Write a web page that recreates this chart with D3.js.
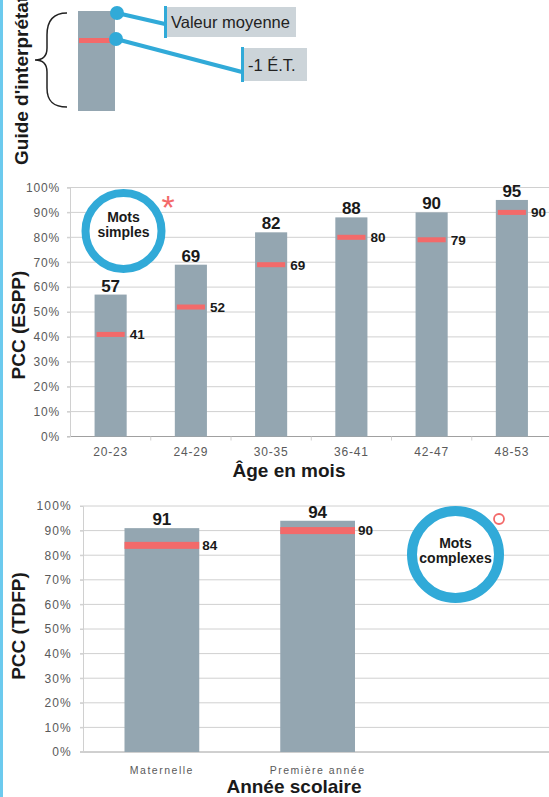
<!DOCTYPE html>
<html>
<head>
<meta charset="utf-8">
<script src="https://cdn.jsdelivr.net/npm/d3@7"></script>
<style>
  html, body { margin: 0; padding: 0; background: #fff; }
  svg { display: block; font-family: "Liberation Sans", Arial, sans-serif; }
</style>
</head>
<body>
<svg id="chart" width="549" height="797"></svg>
<script>
// Age groups (months) — simple words, ESPP
const ageGroups = ["20-23", "24-29", "30-35", "36-41", "42-47", "48-53"];
const ageMeans = [57, 69, 82, 88, 90, 95];
const ageMinusSD = [41, 52, 69, 80, 79, 90];

// School years — complex words, TDFP
const schoolYears = ["Maternelle", "Première année"];
const schoolMeans = [91, 94];
const schoolMinusSD = [84, 90];

// Shared percent ticks
const pctTicks = [0, 10, 20, 30, 40, 50, 60, 70, 80, 90, 100];

const BAR = "#94a6b1";
const RED = "#f36a6a";
const BLUE = "#31aad8";
const GRID = "#d0d0d0";
const AXIS = "#a0a0a0";
const TICKTXT = "#5a5a5a";

const svg = d3.select("#chart");

// light blue rule along the left edge
svg.append("rect").attr("x", 0).attr("y", 0).attr("width", 3).attr("height", 797).attr("fill", "#6ccaee");

// ---------- Reading guide ----------
const guide = svg.append("g");
guide.append("text")
  .attr("transform", "translate(28,165) rotate(-90)")
  .attr("font-size", 19).attr("font-weight", "bold").attr("fill", "#1a1a1a")
  .text("Guide d'interprétation");

guide.append("path")
  .attr("d", "M67,13 C52,13 47,22 47,35 L47,48 C47,56 43,60 35,60 C43,60 47,64 47,72 L47,88 C47,100 52,107 67,107")
  .attr("fill", "none").attr("stroke", "#222").attr("stroke-width", 1.5);

guide.append("rect").attr("x", 78).attr("y", 11).attr("width", 37).attr("height", 100).attr("fill", BAR);
guide.append("rect").attr("x", 79).attr("y", 38).attr("width", 33).attr("height", 5).attr("fill", RED);

const guideCallouts = [
  { label: "Valeur moyenne", dot: [117, 13], end: [165, 24], box: [167, 7, 129, 30], base: 28 },
  { label: "-1 É.T.", dot: [116, 39], end: [242, 72], box: [244, 48, 63, 33], base: 71 }
];
guideCallouts.forEach(c => {
  guide.append("rect").attr("x", c.box[0]).attr("y", c.box[1]).attr("width", c.box[2]).attr("height", c.box[3]).attr("fill", "#ccd4d9");
  guide.append("line").attr("x1", c.dot[0]).attr("y1", c.dot[1]).attr("x2", c.end[0]).attr("y2", c.end[1])
    .attr("stroke", BLUE).attr("stroke-width", 4);
  guide.append("rect").attr("x", c.box[0] - 3).attr("y", c.box[1] - 1).attr("width", 3).attr("height", c.box[3] + 2).attr("fill", BLUE);
  guide.append("circle").attr("cx", c.dot[0]).attr("cy", c.dot[1]).attr("r", 7).attr("fill", BLUE);
  guide.append("text").attr("x", c.box[0] + 4).attr("y", c.base)
    .attr("font-size", 16.5).attr("fill", "#222").text(c.label);
});

// ---------- generic bar panel ----------
function panel(opts) {
  const g = svg.append("g");
  const y = d3.scaleLinear().domain([0, 100]).range([opts.y0, opts.y1]);
  const x = d3.scaleBand().domain(opts.cats).range(opts.xRange)
    .paddingInner(opts.padIn).paddingOuter(opts.padOut);

  // horizontal gridlines
  g.selectAll("line.grid").data(pctTicks).join("line")
    .attr("x1", opts.axisX - 3).attr("x2", 549)
    .attr("y1", d => y(d)).attr("y2", d => y(d))
    .attr("stroke", d => d === 0 ? AXIS : GRID).attr("stroke-width", 1);

  // y axis
  const ya = g.append("g").attr("transform", `translate(${opts.axisX},0)`)
    .call(d3.axisLeft(y).tickValues(pctTicks).tickFormat(d => d + "%").tickSize(3).tickPadding(opts.tickPad));
  ya.select(".domain").attr("stroke", GRID);
  ya.selectAll(".tick line").attr("stroke", GRID);
  ya.selectAll(".tick text").attr("font-size", opts.yFont).attr("fill", TICKTXT)
    .attr("letter-spacing", opts.yLS).attr("font-family", "Liberation Sans, Arial, sans-serif");

  // x axis labels
  const xa = g.append("g").attr("transform", `translate(0,${opts.y0})`)
    .call(d3.axisBottom(x).tickSize(0).tickPadding(opts.xPad));
  xa.select(".domain").remove();
  xa.selectAll(".tick text").attr("font-size", opts.xFont).attr("fill", TICKTXT)
    .attr("letter-spacing", opts.xLS).attr("font-family", "Liberation Sans, Arial, sans-serif");

  if (opts.boundaryTicks) {
    const bounds = opts.cats.map(c => x(c) - x.step() * x.paddingInner() / 2).slice(1);
    g.selectAll("line.bt").data(bounds).join("line")
      .attr("x1", d => d).attr("x2", d => d).attr("y1", opts.y0).attr("y2", opts.y0 + 4)
      .attr("stroke", GRID);
  }

  const rows = opts.cats.map((c, i) => ({ c, m: opts.means[i], sd: opts.sds[i] }));

  g.selectAll("rect.bar").data(rows).join("rect")
    .attr("x", d => x(d.c)).attr("width", x.bandwidth())
    .attr("y", d => y(d.m)).attr("height", d => y(0) - y(d.m))
    .attr("fill", BAR);

  g.selectAll("rect.sd").data(rows).join("rect")
    .attr("x", d => x(d.c) + opts.redInset).attr("width", x.bandwidth() - 2 * opts.redInset)
    .attr("y", d => y(d.sd) - opts.redH / 2).attr("height", opts.redH)
    .attr("fill", RED);

  g.selectAll("text.mean").data(rows).join("text")
    .attr("x", d => x(d.c) + x.bandwidth() / 2).attr("y", d => y(d.m) - 3)
    .attr("text-anchor", "middle").attr("font-size", opts.meanFont).attr("font-weight", "bold").attr("fill", "#1a1a1a")
    .text(d => d.m);

  g.selectAll("text.sdl").data(rows).join("text")
    .attr("x", d => x(d.c) + x.bandwidth() + 3).attr("y", d => y(d.sd)).attr("dy", "0.36em")
    .attr("font-size", opts.sdFont).attr("font-weight", "bold").attr("fill", "#1a1a1a")
    .text(d => d.sd);

  // titles
  g.append("text").attr("transform", `translate(25,${opts.yTitleY}) rotate(-90)`)
    .attr("text-anchor", "middle").attr("font-size", 19).attr("font-weight", "bold").attr("fill", "#1a1a1a")
    .text(opts.yTitle);
  g.append("text").attr("x", opts.xTitleX).attr("y", opts.xTitleY)
    .attr("text-anchor", "middle").attr("font-size", 19).attr("font-weight", "bold").attr("fill", "#1a1a1a")
    .text(opts.xTitle);

  // badge
  const b = opts.badge;
  g.append("circle").attr("cx", b.cx).attr("cy", b.cy).attr("r", b.r)
    .attr("fill", "#fff").attr("stroke", BLUE).attr("stroke-width", b.sw);
  b.lines.forEach((t, i) => {
    g.append("text").attr("x", b.cx).attr("y", b.base[i]).attr("text-anchor", "middle")
      .attr("font-size", 14).attr("font-weight", "bold").attr("fill", "#1a1a1a").text(t);
  });
  return g;
}

const agePanel = panel({
  cats: ageGroups, means: ageMeans, sds: ageMinusSD,
  y0: 436.5, y1: 187.5, xRange: [70.5, 552], padIn: 0.6, padOut: 0.3, axisX: 70,
  tickPad: 7, yFont: 12, yLS: 0.8, xFont: 12, xLS: 0.8, xPad: 11, boundaryTicks: true,
  redInset: 2, redH: 5, meanFont: 17, sdFont: 13.5,
  yTitle: "PCC (ESPP)", yTitleY: 325, xTitle: "Âge en mois", xTitleX: 289, xTitleY: 477,
  badge: { cx: 123.5, cy: 231, r: 38, sw: 8, lines: ["Mots", "simples"], base: [222, 237] }
});
agePanel.append("text").attr("x", 168).attr("y", 219).attr("text-anchor", "middle")
  .attr("font-size", 34).attr("fill", RED).text("*");

const schoolPanel = panel({
  cats: schoolYears, means: schoolMeans, sds: schoolMinusSD,
  y0: 752, y1: 506, xRange: [84, 395.5], padIn: 0.52, padOut: 0.26, axisX: 83,
  tickPad: 8, yFont: 12, yLS: 1.2, xFont: 10.5, xLS: 1.5, xPad: 15, boundaryTicks: false,
  redInset: 0, redH: 7, meanFont: 17, sdFont: 13.5,
  yTitle: "PCC (TDFP)", yTitleY: 626, xTitle: "Année scolaire", xTitleX: 294, xTitleY: 793,
  badge: { cx: 455.5, cy: 554.5, r: 43.5, sw: 10, lines: ["Mots", "complexes"], base: [548, 563] }
});
schoolPanel.append("circle").attr("cx", 499).attr("cy", 519).attr("r", 5)
  .attr("fill", "none").attr("stroke", RED).attr("stroke-width", 1.8);
</script>
</body>
</html>
